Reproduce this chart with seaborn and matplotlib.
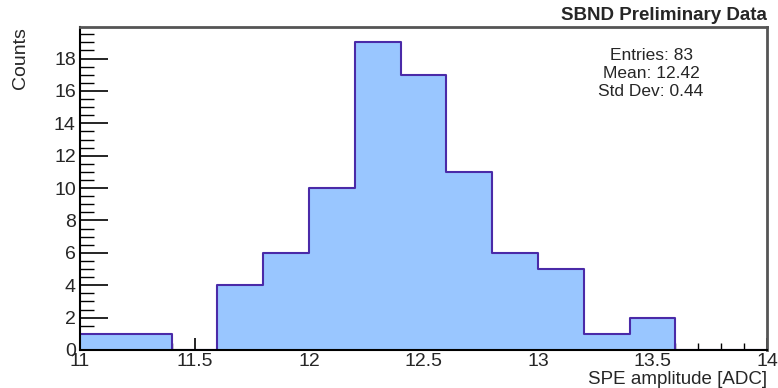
import numpy as np
import pandas as pd
import matplotlib
matplotlib.use("Agg")
import matplotlib.pyplot as plt
from matplotlib.ticker import MultipleLocator
import seaborn as sns

# Histogram content: bin edges and counts per bin
bin_edges = [11.0, 11.2, 11.4, 11.6, 11.8, 12.0, 12.2, 12.4, 12.6, 12.8,
             13.0, 13.2, 13.4, 13.6, 13.8, 14.0]
counts = [1, 1, 0, 4, 6, 10, 19, 17, 11, 6, 5, 1, 2, 0, 0]

stats_lines = ["Entries: 83", "Mean: 12.42", "Std Dev: 0.44"]
title = "SBND Preliminary Data"
x_label = "SPE amplitude [ADC]"
y_label = "Counts"

sns.set_style("white")
plt.rcParams["font.family"] = ["Liberation Sans", "DejaVu Sans"]

edges = np.array(bin_edges)
centers = (edges[:-1] + edges[1:]) / 2
df = pd.DataFrame({"amp": centers, "n": counts})

fill_color = "#99c6ff"
line_color = "#4a2aa8"

fig = plt.figure(figsize=(7.78, 3.88), dpi=100)
ax = fig.add_axes([80 / 778, 1 - 350 / 388, (767 - 80) / 778, (350 - 27) / 388])

sns.histplot(data=df, x="amp", weights="n", bins=bin_edges, element="step",
             fill=True, color=fill_color, alpha=1.0, linewidth=0, ax=ax)
sns.histplot(data=df, x="amp", weights="n", bins=bin_edges, element="step",
             fill=False, color=line_color, linewidth=1.5, ax=ax)

ax.set_xlim(11, 14)
ax.set_ylim(0, 19.95)
ax.set_xlabel("")
ax.set_ylabel("")

ax.xaxis.set_major_locator(MultipleLocator(0.5))
ax.xaxis.set_minor_locator(MultipleLocator(0.1))
ax.yaxis.set_major_locator(MultipleLocator(2))
ax.yaxis.set_minor_locator(MultipleLocator(0.5))
ax.xaxis.set_major_formatter(matplotlib.ticker.FuncFormatter(lambda v, p: f"{v:g}"))

ax.tick_params(axis="x", which="major", direction="in", length=9, width=1.2,
               color="black", labelsize=14, pad=2, bottom=True, top=False)
ax.tick_params(axis="x", which="minor", direction="in", length=5, width=1.0,
               color="black", bottom=True, top=False)
ax.tick_params(axis="y", which="major", direction="in", length=20, width=1.2,
               color="black", labelsize=14, pad=3, left=True, right=False)
ax.tick_params(axis="y", which="minor", direction="in", length=10, width=1.0,
               color="black", left=True, right=False)

for side in ("left", "bottom"):
    ax.spines[side].set_color("black")
    ax.spines[side].set_linewidth(1.5)
for side in ("top", "right"):
    ax.spines[side].set_color("#555555")
    ax.spines[side].set_linewidth(2.0)
for s in ax.spines.values():
    s.set_zorder(5)

fig.text(767 / 778, 1 - 15 / 388, title, ha="right", va="center",
         fontsize=13.5, fontweight="bold")

for i, line in enumerate(stats_lines):
    fig.text(651 / 778, 1 - (55 + 18 * i) / 388, line, ha="center",
             va="center", fontsize=12.5)

fig.text(767 / 778, 1 - 379 / 388, x_label, ha="right", va="center", fontsize=13.5)
fig.text(20 / 778, 1 - 27 / 388, y_label, ha="center", va="top",
         rotation=90, fontsize=14)

fig.savefig("out.png", dpi=100)
